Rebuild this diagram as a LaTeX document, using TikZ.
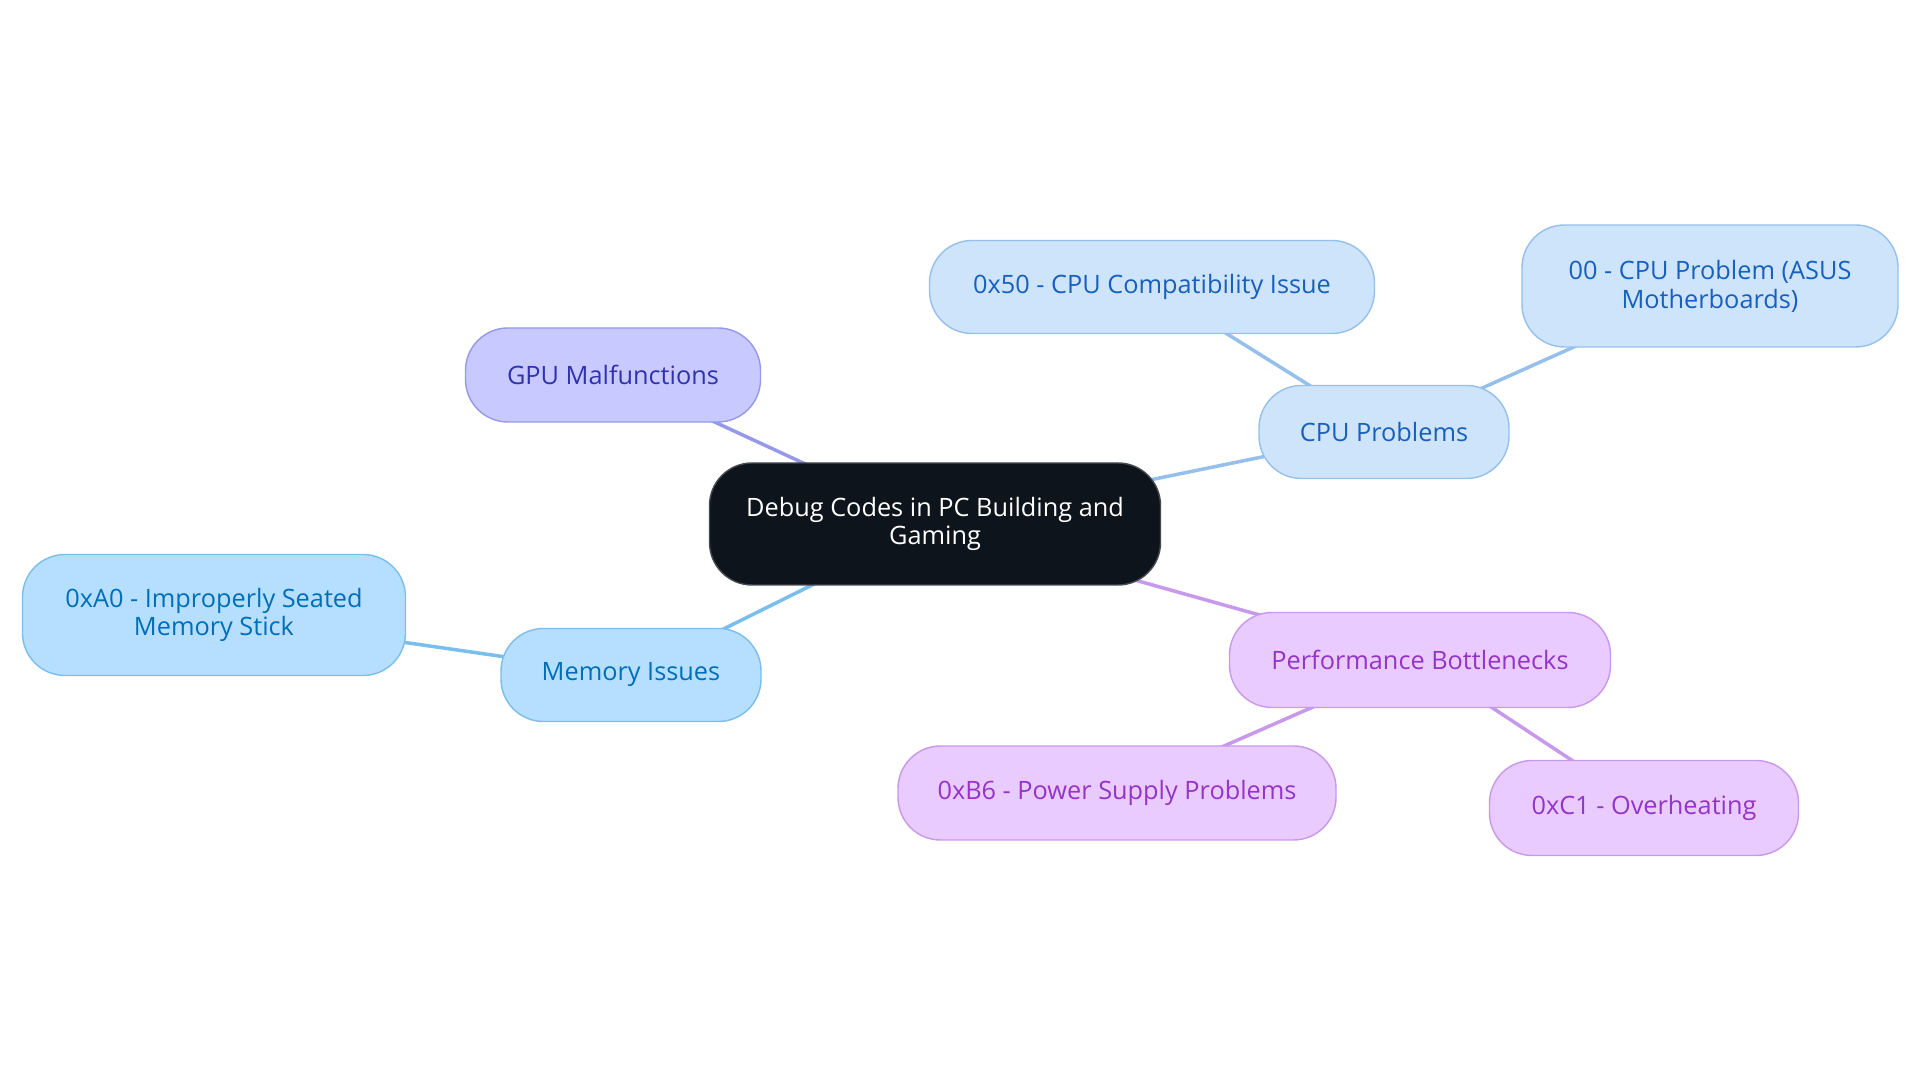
\documentclass[tikz,border=0pt]{standalone}
\usepackage{fontspec}
\setmainfont{Open Sans}
\usepackage{tikz}
\usetikzlibrary{backgrounds}
\definecolor{dcroot}{RGB}{13,20,28}
\definecolor{dcrootedge}{RGB}{70,75,82}
\definecolor{dccpu}{RGB}{206,228,251}
\definecolor{dccpuedge}{RGB}{150,192,236}
\definecolor{dccputxt}{RGB}{24,96,190}
\definecolor{dcmem}{RGB}{182,223,255}
\definecolor{dcmemedge}{RGB}{122,190,236}
\definecolor{dcmemtxt}{RGB}{0,110,185}
\definecolor{dcgpu}{RGB}{200,202,255}
\definecolor{dcgpuedge}{RGB}{150,152,232}
\definecolor{dcgputxt}{RGB}{48,50,175}
\definecolor{dcperf}{RGB}{234,203,255}
\definecolor{dcperfedge}{RGB}{200,152,236}
\definecolor{dcperftxt}{RGB}{148,52,200}
\tikzset{
  dcbox/.style={
    line width=0.8pt, rounded corners=0.85cm, align=center,
    inner sep=0pt, outer sep=0pt, font=\fontsize{14.4}{16.4}\selectfont
  },
  root/.style={dcbox, fill=dcroot, draw=dcrootedge, text=white},
  cpu/.style={dcbox, fill=dccpu, draw=dccpuedge, text=dccputxt},
  mem/.style={dcbox, fill=dcmem, draw=dcmemedge, text=dcmemtxt},
  gpu/.style={dcbox, fill=dcgpu, draw=dcgpuedge, text=dcgputxt},
  perf/.style={dcbox, fill=dcperf, draw=dcperfedge, text=dcperftxt},
  link/.style={line width=2pt}
}
\begin{document}
\begin{tikzpicture}[x=1cm,y=1cm]
  \useasboundingbox (0,0) rectangle (38.4,21.66);
  \node[root, minimum width=9.02cm, minimum height=2.44cm] (root) at (18.70,11.18) {Debug Codes in PC Building and\\Gaming};

  \node[gpu, minimum width=5.9cm, minimum height=1.88cm] (gpu) at (12.26,14.16) {GPU Malfunctions};
  \node[cpu, minimum width=5.0cm, minimum height=1.86cm] (cpu) at (27.68,13.02) {CPU Problems};
  \node[cpu, minimum width=8.9cm, minimum height=1.86cm] (c50) at (23.04,15.92) {0x50 - CPU Compatibility Issue};
  \node[cpu, minimum width=7.52cm, minimum height=2.44cm] (c00) at (34.20,15.94) {00 - CPU Problem (ASUS\\Motherboards)};
  \node[mem, minimum width=5.2cm, minimum height=1.86cm] (mem) at (12.62,8.16) {Memory Issues};
  \node[mem, minimum width=7.66cm, minimum height=2.42cm] (ca0) at (4.28,9.36) {0xA0 - Improperly Seated\\Memory Stick};
  \node[perf, minimum width=7.62cm, minimum height=1.9cm] (perf) at (28.40,8.46) {Performance Bottlenecks};
  \node[perf, minimum width=8.76cm, minimum height=1.88cm] (cb6) at (22.34,5.80) {0xB6 - Power Supply Problems};
  \node[perf, minimum width=6.18cm, minimum height=1.9cm] (cc1) at (32.88,5.50) {0xC1 - Overheating};

  \begin{scope}[on background layer]
    \draw[link, draw=dcgpuedge] (root.center) -- (gpu.center);
    \draw[link, draw=dccpuedge] (root.center) -- (cpu.center);
    \draw[link, draw=dccpuedge] (cpu.center) -- (c50.center);
    \draw[link, draw=dccpuedge] (cpu.center) -- (c00.center);
    \draw[link, draw=dcmemedge] (root.center) -- (mem.center);
    \draw[link, draw=dcmemedge] (mem.center) -- (ca0.center);
    \draw[link, draw=dcperfedge] (root.center) -- (perf.center);
    \draw[link, draw=dcperfedge] (perf.center) -- (cb6.center);
    \draw[link, draw=dcperfedge] (perf.center) -- (cc1.center);
  \end{scope}
\end{tikzpicture}
\end{document}
